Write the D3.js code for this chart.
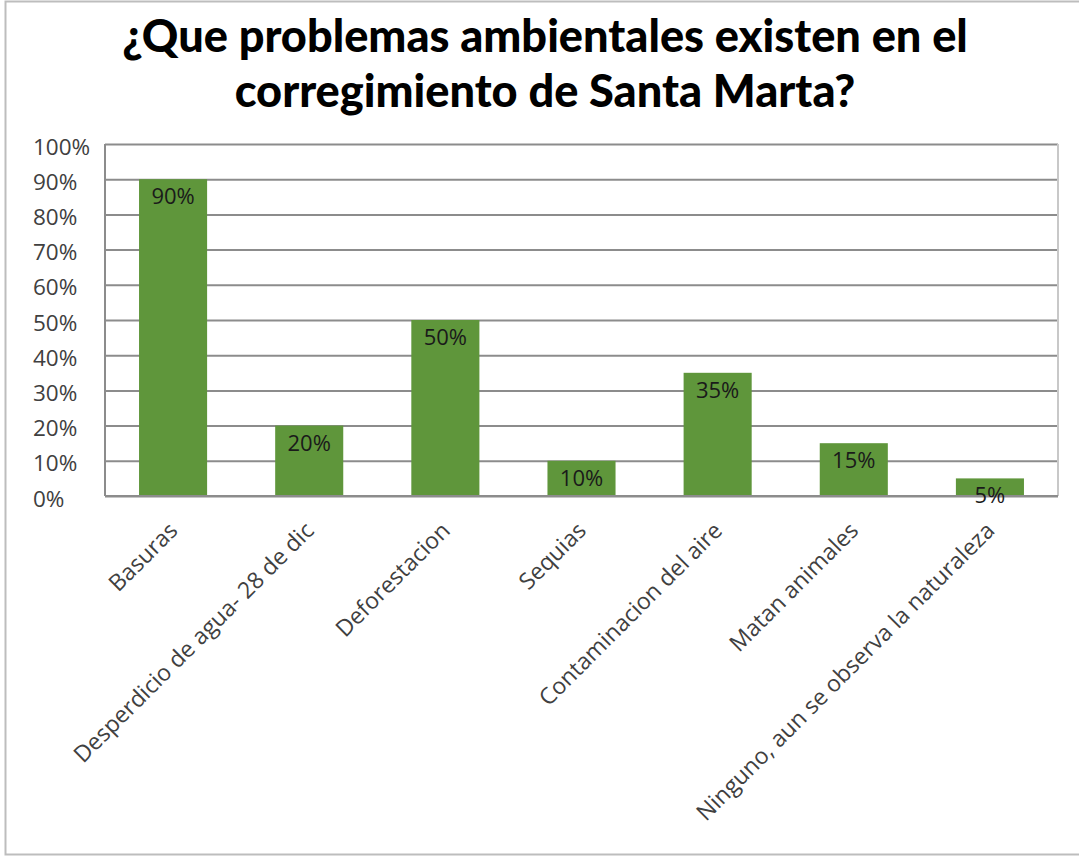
<!DOCTYPE html>
<html><head><meta charset="utf-8">
<script src="https://cdn.jsdelivr.net/npm/d3@7"></script>
<style>body{margin:0;background:#fff}svg{display:block}</style>
</head><body>
<script>
const categories = ["Basuras","Desperdicio de agua- 28 de dic","Deforestacion","Sequias","Contaminacion del aire","Matan animales","Ninguno, aun se observa la naturaleza"];
const values = [0.90,0.20,0.50,0.10,0.35,0.15,0.05];
const yTicks = [0,0.1,0.2,0.3,0.4,0.5,0.6,0.7,0.8,0.9,1.0];
const titleLines = ["¿Que problemas ambientales existen en el","corregimiento de Santa Marta?"];

const W=1079,H=857;
const svg=d3.select("body").append("svg").attr("width",W).attr("height",H);
svg.append("rect").attr("x",5.5).attr("y",1.5).attr("width",W+10).attr("height",853).attr("fill","#fff").attr("stroke","#bdbdbd").attr("stroke-width",2);

const m={left:105,right:1058,top:144,bottom:496};
const x=d3.scaleBand().domain(categories).range([m.left,m.right]).paddingInner(0.5).paddingOuter(0.25);
const y=d3.scaleLinear().domain([0,1]).range([m.bottom,m.top]);
const fmt=d3.format(".0%");
const F="'Open Sans', 'Noto Sans', sans-serif";

// gridlines
const g=svg.append("g").attr("transform",`translate(${m.left},0)`).call(d3.axisLeft(y).tickValues(yTicks).tickFormat(fmt).tickSize(-(m.right-m.left)));
g.select(".domain").remove();
g.selectAll(".tick line").attr("stroke","#8c8c8c").attr("stroke-width",2);
g.selectAll(".tick text").attr("font-family",F).attr("font-size",22.5).attr("fill","#404040").attr("text-anchor","start").attr("x",-72).attr("dy","0.45em");
svg.append("line").attr("x1",m.left).attr("x2",m.left).attr("y1",m.top).attr("y2",m.bottom).attr("stroke","#8c8c8c").attr("stroke-width",2);
svg.append("line").attr("x1",m.right).attr("x2",m.right).attr("y1",m.top).attr("y2",m.bottom).attr("stroke","#c8c8c8").attr("stroke-width",2);

// bars
svg.selectAll("rect.bar").data(values).join("rect").attr("class","bar")
 .attr("x",(d,i)=>x(categories[i])).attr("width",x.bandwidth())
 .attr("y",d=>y(d)).attr("height",d=>y(0)-y(d)).attr("fill","#5f963b");
svg.append("line").attr("x1",m.left).attr("x2",m.right).attr("y1",m.bottom).attr("y2",m.bottom).attr("stroke","#8c8c8c").attr("stroke-width",2);

// data labels
svg.selectAll("text.lab").data(values).join("text").attr("class","lab")
 .attr("x",(d,i)=>x(categories[i])+x.bandwidth()/2).attr("y",d=>y(d)+25)
 .attr("text-anchor","middle").attr("font-family",F).attr("font-size",22).attr("fill","#1a1a1a").text(d=>fmt(d));

// x labels
const xa=svg.append("g").attr("transform",`translate(0,${m.bottom})`).call(d3.axisBottom(x).tickSize(0).tickPadding(0));
xa.select(".domain").remove();
xa.selectAll(".tick text").attr("font-family",F).attr("font-size",23).attr("fill","#404040")
 .attr("text-anchor","end").attr("dy",0).attr("y",0)
 .attr("transform","translate(6,36) rotate(-45)");

// title
const t=svg.append("g");
titleLines.forEach((s,i)=>{
  t.append("text").attr("x",545).attr("y",[52,107][i]).attr("text-anchor","middle")
   .attr("font-family","Lato").attr("font-weight","900").attr("font-size",40).attr("fill","#000").text(s);
});
const w0=t.select("text").node().getComputedTextLength();
t.selectAll("text").attr("font-size",40*846/w0);
</script>
</body></html>
